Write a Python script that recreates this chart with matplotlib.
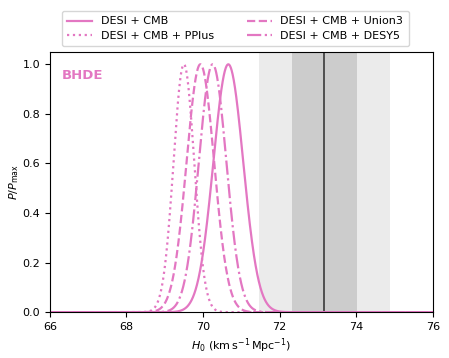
import numpy as np
import matplotlib
matplotlib.use("Agg")
import matplotlib.pyplot as plt

# Posterior summaries (Gaussian approximations)
labels = ["DESI + CMB", "DESI + CMB + PPlus", "DESI + CMB + Union3", "DESI + CMB + DESY5"]
h0_mean = [70.66, 69.50, 69.93, 70.25]
h0_sigma = [0.39, 0.27, 0.36, 0.36]
styles = ["-", ":", "--", "-."]

shoes_mean = 73.17
shoes_sigma = 0.86

model_name = "BHDE"
color = "#e377c2"

plt.rcParams["font.size"] = 8

fig = plt.figure(figsize=(4.49, 3.58), dpi=100)
ax = fig.add_axes([0.111, 0.128, 0.853, 0.727])

ax.axvspan(shoes_mean - 2 * shoes_sigma, shoes_mean + 2 * shoes_sigma, color="#ebebeb", lw=0)
ax.axvspan(shoes_mean - shoes_sigma, shoes_mean + shoes_sigma, color="#cccccc", lw=0)
ax.axvline(shoes_mean, color="#444444", lw=1.3)

x = np.linspace(66, 76, 2000)
handles = []
for lab, m, s, ls in zip(labels, h0_mean, h0_sigma, styles):
    p = np.exp(-0.5 * ((x - m) / s) ** 2)
    h, = ax.plot(x, p, ls=ls, color=color, lw=1.6, label=lab)
    handles.append(h)

ax.set_xlim(66, 76)
ax.set_ylim(0, 1.05)
ax.set_xticks([66, 68, 70, 72, 74, 76])
ax.set_yticks([0.0, 0.2, 0.4, 0.6, 0.8, 1.0])
ax.tick_params(labelsize=8)
ax.set_xlabel(r"$H_0$ (km$\,$s$^{-1}\,$Mpc$^{-1}$)", fontsize=8, labelpad=3)
ax.set_ylabel(r"$P/P_{\rm max}$", fontsize=8, labelpad=1)
ax.text(0.03, 0.935, model_name, transform=ax.transAxes, color=color,
        fontweight="bold", fontsize=9.5, va="top", ha="left")

fig.legend(handles, labels, loc="upper center", bbox_to_anchor=(0.524, 0.985),
           ncol=2, frameon=True, fontsize=8, handlelength=2.2, columnspacing=3.0,
           borderpad=0.5, labelspacing=0.4)

fig.savefig("out.png", dpi=100)
